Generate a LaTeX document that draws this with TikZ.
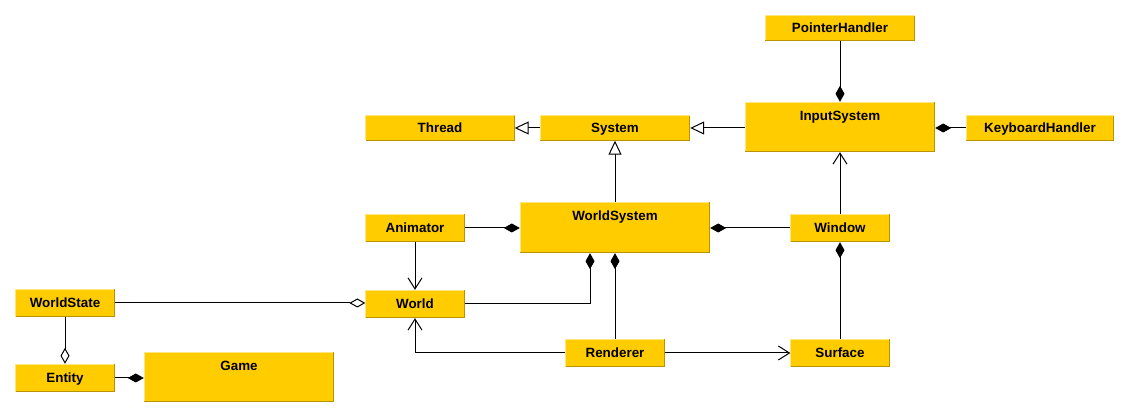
\documentclass[tikz,border=0pt]{standalone}
\usepackage{fontspec}
\setmainfont{Liberation Sans}
\usetikzlibrary{arrows.meta}
\definecolor{boxfill}{HTML}{FFCC00}
\definecolor{boxlight}{HTML}{FFE680}
\definecolor{boxdark}{HTML}{B89400}
\tikzset{
  boxfont/.style={font=\fontsize{13.4}{15}\selectfont\bfseries},
  umlbox/.style={fill=boxfill, draw=none, inner sep=0pt, boxfont,
    text height=10.5pt, text depth=1.5pt},
  bigbox/.style={umlbox, minimum width=190pt, minimum height=50pt},
  biglabel/.style={anchor=base, yshift=-18.5pt, boxfont},
  conn/.style={draw=black, line width=1pt},
  comp/.style={-{Diamond[length=16pt,width=9pt]}},
  aggr/.style={-{Diamond[open,length=16pt,width=9pt,fill=white]}},
  inherit/.style={-{Triangle[open,length=14pt,width=13pt,fill=white]}},
  assoc/.style={-{Straight Barb[length=11pt,width=14pt,line width=1pt]}},
}
\begin{document}
\begin{tikzpicture}[x=1pt,y=-1pt]
\useasboundingbox (0,0) rectangle (1130,419);
\fill[white] (0,0) rectangle (1130,419);
% nodes
\node[umlbox, minimum width=150pt, minimum height=25pt] (PointerHandler) at (840,28) {PointerHandler};
\node[bigbox, label={[biglabel]north:InputSystem}] (InputSystem) at (840,127) {};
\node[umlbox, minimum width=148pt, minimum height=25pt] (KeyboardHandler) at (1040,128) {KeyboardHandler};
\node[umlbox, minimum width=149pt, minimum height=25pt] (Thread) at (440,128) {Thread};
\node[umlbox, minimum width=150pt, minimum height=25pt] (System) at (615,128) {System};
\node[bigbox, minimum height=51pt, label={[biglabel]north:WorldSystem}] (WorldSystem) at (615,227.5) {};
\node[umlbox, minimum width=99pt, minimum height=28pt] (Animator) at (415,228) {Animator};
\node[umlbox, minimum width=99pt, minimum height=28pt] (Window) at (840,228) {Window};
\node[umlbox, minimum width=99pt, minimum height=28pt] (World) at (415,304) {World};
\node[umlbox, minimum width=99pt, minimum height=28pt] (Renderer) at (615,353) {Renderer};
\node[umlbox, minimum width=99pt, minimum height=28pt] (Surface) at (840,353) {Surface};
\node[umlbox, minimum width=99pt, minimum height=28pt] (WorldState) at (65,303) {WorldState};
\node[umlbox, minimum width=99pt, minimum height=28pt] (Entity) at (65,378) {Entity};
\node[bigbox, minimum height=50pt, label={[biglabel]north:Game}] (Game) at (239,377) {};
% 3D borders
\foreach \n in {PointerHandler,InputSystem,KeyboardHandler,Thread,System,WorldSystem,Animator,Window,World,Renderer,Surface,WorldState,Entity,Game}{
  \draw[boxlight, line width=1pt] ([shift={(0.5pt,0.5pt)}]\n.south west) |- ([shift={(-0.5pt,-0.5pt)}]\n.north east);
  \draw[boxdark, line width=1pt] ([shift={(0.5pt,0.5pt)}]\n.south west) -| ([shift={(-0.5pt,-0.5pt)}]\n.north east);
}
% connectors
\draw[conn, comp] (PointerHandler) -- (InputSystem);
\draw[conn, comp] (KeyboardHandler) -- (KeyboardHandler -| InputSystem.east);
\draw[conn, inherit] (InputSystem.west |- System) -- (System);
\draw[conn, inherit] (System) -- (Thread);
\draw[conn, inherit] (WorldSystem) -- (System);
\draw[conn, comp] (Animator) -- (Animator -| WorldSystem.west);
\draw[conn, comp] (Window) -- (Window -| WorldSystem.east);
\draw[conn, assoc] (Window) -- (InputSystem);
\draw[conn, comp] (Surface) -- (Window);
\draw[conn, assoc] (Animator) -- (World);
\draw[conn, comp] (World.east) -| ([xshift=-25pt]WorldSystem.south);
\draw[conn, comp] (Renderer) -- (WorldSystem);
\draw[conn, assoc] (Renderer.west) -| (World.south);
\draw[conn, assoc] (Renderer) -- (Surface);
\draw[conn, aggr] (WorldState.east) -- (WorldState.east -| World.west);
\draw[conn, aggr] (WorldState) -- (Entity);
\draw[conn, comp] (Entity) -- (Entity -| Game.west);
\end{tikzpicture}
\end{document}
